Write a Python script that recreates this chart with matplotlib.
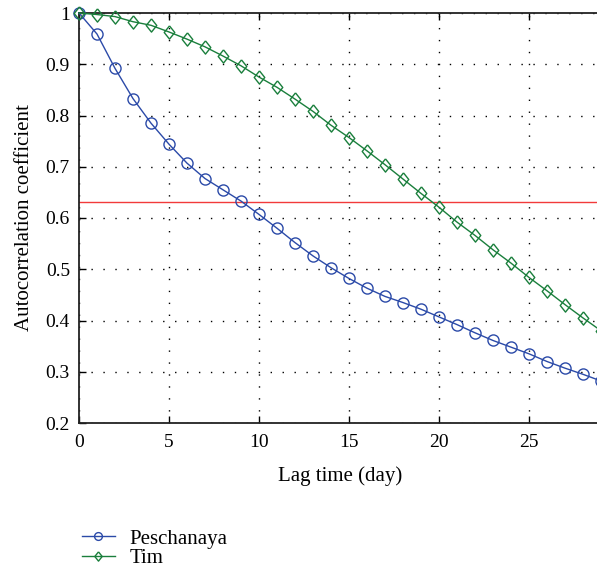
import matplotlib
matplotlib.use("Agg")
import matplotlib.pyplot as plt
from matplotlib.ticker import MultipleLocator

lags = list(range(0, 30))
peschanaya = [1.0, 0.959, 0.892, 0.833, 0.785, 0.744, 0.707, 0.677, 0.655, 0.633,
              0.607, 0.580, 0.552, 0.526, 0.503, 0.482, 0.463, 0.447, 0.435, 0.422,
              0.407, 0.392, 0.376, 0.361, 0.348, 0.335, 0.320, 0.307, 0.295, 0.282]
tim = [1.0, 0.997, 0.993, 0.983, 0.976, 0.963, 0.949, 0.934, 0.916, 0.897,
       0.875, 0.855, 0.832, 0.808, 0.781, 0.757, 0.731, 0.704, 0.676, 0.648,
       0.621, 0.592, 0.566, 0.538, 0.512, 0.484, 0.458, 0.431, 0.405, 0.380]
threshold = 0.632
series_names = ["Peschanaya", "Tim"]
yticks = [0.2, 0.3, 0.4, 0.5, 0.6, 0.7, 0.8, 0.9, 1.0]

plt.rcParams['font.family'] = ['Liberation Serif', 'DejaVu Serif']

fig = plt.figure(figsize=(5.97, 5.69), dpi=100)
ax = fig.add_axes([79/597, 1-423/569, 522/597, 410/569])

blue = '#2b4aa8'
green = '#1a7f3c'
diamond = [(0, 1), (0.8, 0), (0, -1), (-0.8, 0), (0, 1)]
ax.plot(lags, peschanaya, color=blue, lw=1.0, marker='o', ms=8, mfc='none',
        mec=blue, mew=1.0, label=series_names[0], clip_on=False, zorder=3)
ax.plot(lags, tim, color=green, lw=1.0, marker=diamond, ms=9.5, mfc='none',
        mec=green, mew=1.0, label=series_names[1], clip_on=False, zorder=3)
ax.axhline(threshold, color='#f23a3a', lw=1.0, zorder=2)

ax.set_xlim(0, 29)
ax.set_ylim(0.2, 1.0)
ax.xaxis.set_major_locator(MultipleLocator(5))
ax.set_yticks(yticks)
ax.set_yticklabels([('%g' % v) for v in yticks])
ax.grid(True, color='black', linestyle=(0, (1, 7.6)), lw=1.0)
ax.tick_params(direction='in', length=5, width=1, labelsize=14, top=True, right=False,
               colors='black')
ax.tick_params(axis='y', pad=6.5)
ax.tick_params(axis='x', pad=8)
for s in ['left', 'bottom', 'top']:
    ax.spines[s].set_linewidth(1.3)
    ax.spines[s].set_color('#222222')
ax.spines['right'].set_visible(False)

ax.set_xlabel("Lag time (day)", fontsize=15, labelpad=11)
ax.set_ylabel("Autocorrelation coefficient", fontsize=15, labelpad=8)

fig.legend(loc='upper left', bbox_to_anchor=(0.123, 0.085),
           frameon=False, fontsize=15, handlelength=1.6, handletextpad=0.7,
           labelspacing=0.0, markerscale=0.7, borderaxespad=0)

fig.savefig("out.png", dpi=100)
